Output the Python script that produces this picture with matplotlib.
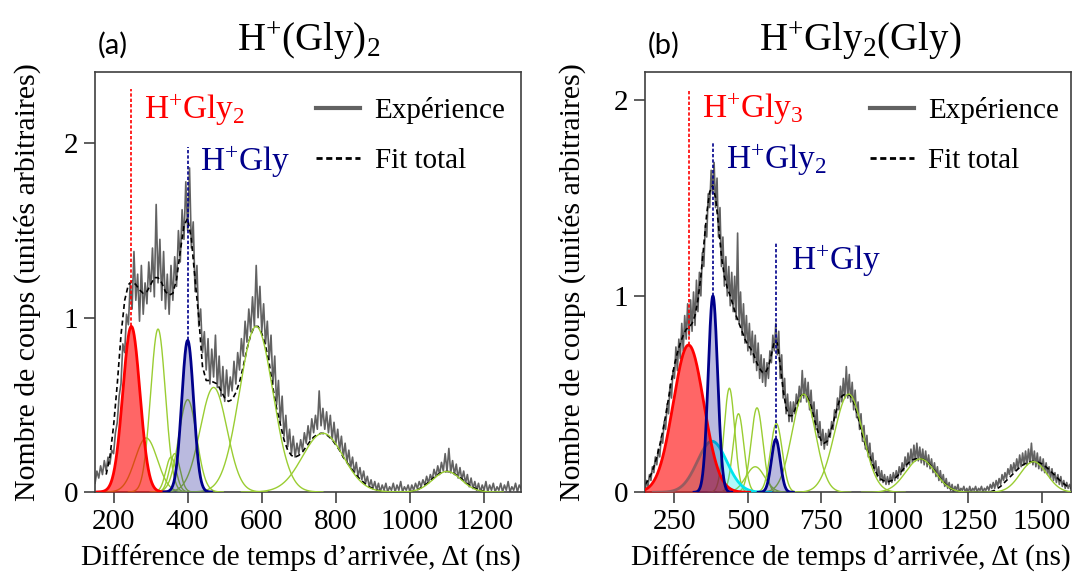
import numpy as np
import matplotlib
matplotlib.use("Agg")
import matplotlib.pyplot as plt
from matplotlib.lines import Line2D

plt.rcParams['font.family'] = 'Liberation Serif'
plt.rcParams['mathtext.fontset'] = 'custom'
plt.rcParams['mathtext.rm'] = 'Liberation Serif'
plt.rcParams['mathtext.it'] = 'Liberation Serif:italic'

# ---------------- panel (a) : H+(Gly)2 ----------------
exp_a_start = 150  # ns, step 5 ns
exp_a = [0.05, 0.12, 0.08, 0.15, 0.10, 0.18, 0.12, 0.20, 0.16, 0.24,
         0.22, 0.34, 0.40, 0.55, 0.62, 0.85, 0.80, 1.02, 0.96, 1.20,
         1.05, 1.38, 1.10, 1.25, 0.98, 1.30, 1.02, 1.20, 1.08, 1.32,
         1.15, 1.40, 1.12, 1.65, 1.20, 1.45, 1.10, 1.38, 1.05, 1.25,
         1.02, 1.30, 1.10, 1.35, 1.18, 1.50, 1.32, 1.62, 1.45, 1.78,
         1.50, 1.86, 1.40, 1.55, 1.15, 1.30, 0.95, 1.05, 0.80, 0.92,
         0.70, 0.88, 0.62, 0.82, 0.66, 0.90, 0.60, 0.78, 0.55, 0.72,
         0.52, 0.70, 0.55, 0.66, 0.58, 0.75, 0.62, 0.80, 0.70, 0.88,
         0.78, 0.98, 0.86, 1.05, 0.92, 1.12, 0.95, 1.30, 1.00, 1.18,
         0.92, 1.08, 0.85, 0.98, 0.76, 0.90, 0.62, 0.78, 0.50, 0.64,
         0.40, 0.55, 0.32, 0.44, 0.26, 0.36, 0.22, 0.32, 0.20, 0.28,
         0.22, 0.30, 0.24, 0.34, 0.28, 0.38, 0.30, 0.42, 0.34, 0.44,
         0.36, 0.58, 0.38, 0.48, 0.36, 0.46, 0.34, 0.44, 0.30, 0.40,
         0.28, 0.36, 0.24, 0.32, 0.20, 0.28, 0.17, 0.24, 0.14, 0.20,
         0.11, 0.17, 0.09, 0.14, 0.07, 0.12, 0.05, 0.09, 0.03, 0.07,
         0.02, 0.06, 0.01, 0.05, 0.00, 0.04, 0.01, 0.05, 0.00, 0.03,
         0.01, 0.05, 0.00, 0.04, 0.01, 0.06, 0.00, 0.03, 0.01, 0.04,
         0.00, 0.04, 0.01, 0.05, 0.02, 0.06, 0.03, 0.07, 0.04, 0.09,
         0.05, 0.10, 0.07, 0.13, 0.09, 0.15, 0.10, 0.17, 0.12, 0.22,
         0.12, 0.25, 0.11, 0.18, 0.10, 0.16, 0.08, 0.14, 0.07, 0.12,
         0.05, 0.10, 0.03, 0.08, 0.02, 0.06, 0.01, 0.05, 0.00, 0.04,
         0.01, 0.06, 0.00, 0.04, 0.01, 0.05, 0.00, 0.03, 0.01, 0.05,
         0.00, 0.04, 0.01, 0.06, 0.00, 0.03, 0.01, 0.05, 0.00, 0.04,
         0.02]
fit_a_start = 180  # ns, step 10 ns
fit_a = [0.10, 0.20, 0.38, 0.62, 0.90, 1.10, 1.19, 1.21, 1.19, 1.16,
         1.14, 1.15, 1.19, 1.23, 1.23, 1.20, 1.15, 1.13, 1.14, 1.22,
         1.38, 1.53, 1.57, 1.45, 1.22, 1.00, 0.72, 0.64, 0.64, 0.63,
         0.62, 0.58, 0.54, 0.52, 0.53, 0.57, 0.63, 0.72, 0.82, 0.90,
         0.95, 0.95, 0.91, 0.84, 0.74, 0.60, 0.48, 0.39, 0.30, 0.24,
         0.21, 0.20, 0.21, 0.23, 0.26, 0.29, 0.315, 0.33, 0.337, 0.335,
         0.32, 0.30, 0.27, 0.24, 0.20, 0.17, 0.14, 0.11, 0.085, 0.065,
         0.045, 0.03, 0.02, 0.012, 0.006, 0.003, 0.001, 0.0, 0.0, 0.0,
         0.0, 0.0, 0.002, 0.005, 0.012, 0.025, 0.04, 0.055, 0.075, 0.093,
         0.107, 0.115, 0.118, 0.115, 0.105, 0.09, 0.075, 0.055, 0.04, 0.027,
         0.017, 0.01, 0.005]
# fitted peaks: centre (ns), height, width sigma (ns)
red_a = (248, 0.95, 23)
blue_a = (400, 0.87, 16)
green_a_pos = [288, 320, 355, 365, 400, 470, 585, 765, 1100]
green_a_amp = [0.31, 0.935, 0.20, 0.22, 0.53, 0.60, 0.95, 0.337, 0.118]
green_a_wid = [30, 20, 14, 14, 24, 36, 45, 55, 38]

# ---------------- panel (b) : H+Gly2(Gly) ----------------
exp_b_start = 150  # ns, step 5 ns
exp_b = [0.00, 0.06, 0.03, 0.09, 0.06, 0.13, 0.10, 0.18, 0.14, 0.22,
         0.18, 0.28, 0.25, 0.36, 0.32, 0.45, 0.40, 0.55, 0.48, 0.62,
         0.58, 0.74, 0.62, 0.78, 0.68, 0.86, 0.72, 0.90, 0.78, 0.96,
         0.80, 0.98, 0.82, 1.02, 0.85, 1.08, 0.92, 1.12, 1.00, 1.22,
         1.15, 1.36, 1.30, 1.52, 1.45, 1.64, 1.52, 1.68, 1.45, 1.60,
         1.30, 1.45, 1.15, 1.30, 1.05, 1.20, 1.00, 1.15, 0.95, 1.12,
         0.92, 1.10, 0.88, 1.32, 0.86, 1.02, 0.80, 0.96, 0.76, 0.90,
         0.72, 0.86, 0.70, 0.82, 0.66, 0.80, 0.62, 0.76, 0.58, 0.70,
         0.56, 0.68, 0.54, 0.66, 0.58, 0.72, 0.66, 0.80, 0.72, 0.86,
         0.70, 0.82, 0.58, 0.70, 0.48, 0.58, 0.40, 0.50, 0.36, 0.46,
         0.36, 0.46, 0.40, 0.50, 0.44, 0.54, 0.46, 0.62, 0.48, 0.58,
         0.46, 0.56, 0.42, 0.52, 0.38, 0.46, 0.32, 0.42, 0.28, 0.36,
         0.24, 0.32, 0.22, 0.30, 0.24, 0.32, 0.28, 0.36, 0.32, 0.42,
         0.38, 0.48, 0.42, 0.54, 0.46, 0.58, 0.48, 0.64, 0.48, 0.60,
         0.46, 0.56, 0.42, 0.52, 0.38, 0.46, 0.32, 0.40, 0.26, 0.34,
         0.22, 0.29, 0.18, 0.25, 0.14, 0.20, 0.11, 0.16, 0.08, 0.13,
         0.06, 0.11, 0.05, 0.09, 0.04, 0.08, 0.04, 0.09, 0.05, 0.10,
         0.06, 0.11, 0.07, 0.13, 0.09, 0.15, 0.11, 0.18, 0.13, 0.20,
         0.14, 0.22, 0.15, 0.24, 0.16, 0.25, 0.16, 0.23, 0.15, 0.22,
         0.14, 0.21, 0.13, 0.19, 0.12, 0.17, 0.10, 0.15, 0.08, 0.13,
         0.06, 0.11, 0.05, 0.09, 0.03, 0.07, 0.02, 0.05, 0.01, 0.04,
         0.00, 0.03, 0.01, 0.04, 0.00, 0.02, 0.01, 0.03, 0.00, 0.02,
         0.00, 0.03, 0.00, 0.02, 0.01, 0.03, 0.00, 0.02, 0.01, 0.03,
         0.00, 0.02, 0.01, 0.03, 0.01, 0.04, 0.02, 0.05, 0.02, 0.06,
         0.03, 0.07, 0.04, 0.09, 0.06, 0.10, 0.07, 0.12, 0.09, 0.14,
         0.10, 0.15, 0.11, 0.17, 0.12, 0.19, 0.13, 0.20, 0.14, 0.21,
         0.14, 0.22, 0.15, 0.25, 0.14, 0.21, 0.13, 0.20, 0.12, 0.18,
         0.11, 0.17, 0.10, 0.15, 0.09, 0.13, 0.07, 0.12, 0.06, 0.10,
         0.05, 0.09, 0.04, 0.08, 0.03, 0.06, 0.02, 0.05, 0.02, 0.04,
         0.02]
fit_b_start = 150  # ns, step 10 ns
fit_b = [0.04, 0.06, 0.09, 0.13, 0.18, 0.24, 0.31, 0.39, 0.48, 0.57,
         0.65, 0.71, 0.76, 0.80, 0.83, 0.84, 0.86, 0.90, 0.98, 1.10,
         1.26, 1.42, 1.53, 1.56, 1.50, 1.36, 1.20, 1.10, 1.04, 1.00,
         0.95, 0.90, 0.86, 0.82, 0.78, 0.75, 0.73, 0.70, 0.66, 0.63,
         0.61, 0.61, 0.64, 0.70, 0.77, 0.76, 0.65, 0.52, 0.43, 0.39,
         0.39, 0.42, 0.46, 0.49, 0.50, 0.49, 0.46, 0.41, 0.35, 0.30,
         0.26, 0.25, 0.26, 0.30, 0.35, 0.41, 0.46, 0.49, 0.50, 0.50,
         0.49, 0.46, 0.41, 0.35, 0.29, 0.24, 0.20, 0.16, 0.12, 0.09,
         0.07, 0.06, 0.055, 0.055, 0.06, 0.07, 0.085, 0.10, 0.12, 0.14,
         0.155, 0.165, 0.17, 0.172, 0.17, 0.165, 0.155, 0.14, 0.12, 0.10,
         0.08, 0.06, 0.045, 0.03, 0.02, 0.012, 0.007, 0.004, 0.002, 0.001,
         0.0, 0.0, 0.0, 0.0, 0.0, 0.0, 0.0, 0.0, 0.005, 0.01,
         0.02, 0.03, 0.045, 0.06, 0.075, 0.09, 0.105, 0.12, 0.133, 0.143,
         0.15, 0.155, 0.157, 0.156, 0.152, 0.145, 0.135, 0.122, 0.108, 0.093,
         0.078, 0.063, 0.05, 0.038, 0.028, 0.02, 0.014]
red_b = (298, 0.75, 52)
blue_b = [(381, 1.0, 16), (595, 0.27, 15)]
cyan_b = (378, 0.26, 50)
green_b_pos = [437, 468, 525, 531, 597, 690, 843, 1087, 1472]
green_b_amp = [0.53, 0.40, 0.13, 0.43, 0.35, 0.50, 0.50, 0.17, 0.156]
green_b_wid = [18, 18, 32, 20, 20, 40, 48, 50, 45]

GRAY = '#626262'
RED = '#ff0000'
NAVY = '#00008b'
GREEN = '#9acd32'
CYAN = '#00e5ee'


def peak(c, h, w):
    x = np.linspace(c - 4 * w, c + 4 * w, 300)
    return x, h * np.exp(-0.5 * ((x - c) / w) ** 2)


def base_axes(ax, xlim, ylim, xticks):
    ax.set_xlim(*xlim)
    ax.set_ylim(*ylim)
    ax.set_xticks(xticks)
    ax.set_yticks([0, 1, 2])
    ax.tick_params(direction='out', length=8, width=1.1, labelsize=21,
                   color='#333333', pad=4)
    for s in ax.spines.values():
        s.set_color('#404040')
        s.set_linewidth(1.2)
    ax.set_xlabel("Différence de temps d’arrivée, Δt (ns)", fontsize=21)
    ax.set_ylabel("Nombre de coups (unités arbitraires)", fontsize=21.5)


def legend(ax, x, y):
    h = [Line2D([], [], color=GRAY, lw=3),
         Line2D([], [], color='black', lw=2, ls=(0, (2.2, 1.3)))]
    ax.legend(h, ['Expérience', 'Fit total'], loc='upper left',
              bbox_to_anchor=(x, y), frameon=False, fontsize=21,
              handlelength=1.5, handletextpad=0.5, labelspacing=0.8,
              borderpad=0, borderaxespad=0)


fig = plt.figure(figsize=(10.74, 5.78), dpi=100)
ax_a = fig.add_axes([0.0885, 0.1488, 0.3967, 0.7266])
ax_b = fig.add_axes([0.6006, 0.1483, 0.3967, 0.7270])

# panel (a)
t = exp_a_start + 5 * np.arange(len(exp_a))
ax_a.plot(t, exp_a, color=GRAY, lw=1.2, zorder=1)
t = fit_a_start + 10 * np.arange(len(fit_a))
ax_a.plot(t, fit_a, color='black', lw=1.2, ls=(0, (3, 2)), zorder=2)
for c, h, w in zip(green_a_pos, green_a_amp, green_a_wid):
    x, y = peak(c, h, w)
    ax_a.plot(x, y, color=GREEN, lw=1.0, zorder=3)
x, y = peak(*red_a)
ax_a.fill_between(x, y, color=RED, alpha=0.6, lw=0, zorder=4)
ax_a.plot(x, y, color=RED, lw=2, zorder=5)
x, y = peak(*blue_a)
ax_a.fill_between(x, y, color=NAVY, alpha=0.27, lw=0, zorder=4)
ax_a.plot(x, y, color=NAVY, lw=2, zorder=5)
ax_a.plot([red_a[0]] * 2, [red_a[1], 2.31], color=RED, lw=1.2, ls=(0, (2, 1.2)), zorder=6)
ax_a.plot([blue_a[0]] * 2, [blue_a[1], 1.98], color=NAVY, lw=1.2, ls=(0, (2, 1.2)), zorder=6)
ax_a.text(281, 2.195, r'H$^{+}$Gly$_{2}$', color=RED, fontsize=24, va='center')
ax_a.text(432, 1.897, r'H$^{+}$Gly', color=NAVY, fontsize=24, va='center')
base_axes(ax_a, (150, 1300), (0, 2.41), [200, 400, 600, 800, 1000, 1200])
legend(ax_a, 0.519, 0.94)

# panel (b)
t = exp_b_start + 5 * np.arange(len(exp_b))
ax_b.plot(t, exp_b, color=GRAY, lw=1.2, zorder=1)
t = fit_b_start + 10 * np.arange(len(fit_b))
ax_b.plot(t, fit_b, color='black', lw=1.2, ls=(0, (3, 2)), zorder=2)
for c, h, w in zip(green_b_pos, green_b_amp, green_b_wid):
    x, y = peak(c, h, w)
    ax_b.plot(x, y, color=GREEN, lw=1.0, zorder=3)
x, y = peak(*cyan_b)
ax_b.fill_between(x, y, color=CYAN, alpha=0.3, lw=0, zorder=3)
ax_b.plot(x, y, color=CYAN, lw=2, zorder=3)
x, y = peak(*red_b)
ax_b.fill_between(x, y, color=RED, alpha=0.6, lw=0, zorder=4)
ax_b.plot(x, y, color=RED, lw=2, zorder=5)
for bp in blue_b:
    x, y = peak(*bp)
    ax_b.fill_between(x, y, color=NAVY, alpha=0.27, lw=0, zorder=4)
    ax_b.plot(x, y, color=NAVY, lw=2, zorder=5)
ax_b.plot([red_b[0]] * 2, [red_b[1], 2.05], color=RED, lw=1.2, ls=(0, (2, 1.2)), zorder=6)
ax_b.plot([blue_b[0][0]] * 2, [blue_b[0][1], 1.78], color=NAVY, lw=1.2, ls=(0, (2, 1.2)), zorder=6)
ax_b.plot([blue_b[1][0]] * 2, [blue_b[1][1], 1.27], color=NAVY, lw=1.2, ls=(0, (2, 1.2)), zorder=6)
ax_b.text(344, 1.95, r'H$^{+}$Gly$_{3}$', color=RED, fontsize=24, va='center')
ax_b.text(426, 1.695, r'H$^{+}$Gly$_{2}$', color=NAVY, fontsize=24, va='center')
ax_b.text(647, 1.18, r'H$^{+}$Gly', color=NAVY, fontsize=24, va='center')
base_axes(ax_b, (150, 1600), (0, 2.14), [250, 500, 750, 1000, 1250, 1500])
legend(ax_b, 0.528, 0.94)

for ax in (ax_a, ax_b):
    ax.xaxis.set_label_coords(0.484, -0.155)
    ax.xaxis.label.set_va('center')
ax_a.yaxis.set_label_coords(-0.158, 0.5)
ax_b.yaxis.set_label_coords(-0.171, 0.5)
for ax in (ax_a, ax_b):
    ax.yaxis.label.set_va('center')

fig.text(0.2877, 0.929, r'H$^{+}$(Gly)$_{2}$', fontsize=28, ha='center', va='center')
fig.text(0.8007, 0.929, r'H$^{+}$Gly$_{2}$(Gly)', fontsize=28, ha='center', va='center')
fig.text(0.091, 0.922, '(a)', family='Lato', fontsize=21, va='center')
fig.text(0.603, 0.922, '(b)', family='Lato', fontsize=21, va='center')

fig.savefig('out.png', dpi=100)
